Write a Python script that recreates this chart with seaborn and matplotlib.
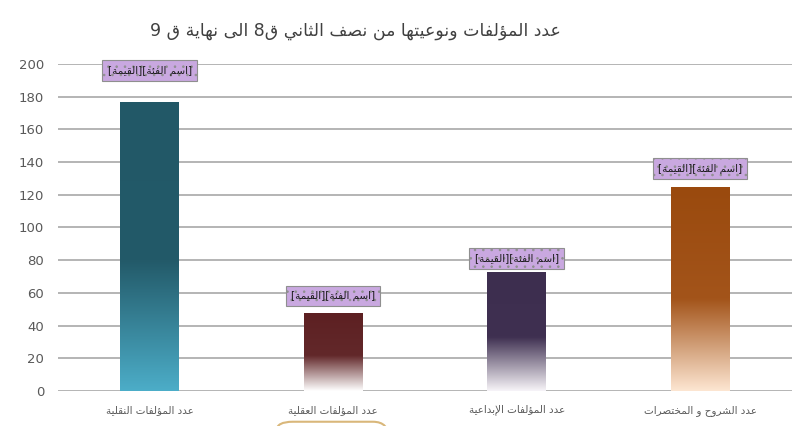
import matplotlib
matplotlib.use("Agg")
import matplotlib.pyplot as plt
import seaborn as sns
import numpy as np
import pandas as pd
from matplotlib.colors import LinearSegmentedColormap
from matplotlib.patches import FancyBboxPatch

# chart data (logical Arabic order)
title = "عدد المؤلفات ونوعيتها من نصف الثاني ق8 الى نهاية ق 9"
categories = ["عدد المؤلفات النقلية", "عدد المؤلفات العقلية",
              "عدد المؤلفات الإبداعية", "عدد الشروح و المختصرات"]
values = [177, 48, 73, 125]
label_name = "اسم الفئة"
label_value = "القيمة"
yticks = [0, 20, 40, 60, 80, 100, 120, 140, 160, 180, 200]

# where the data-label boxes sit (first one is pushed to the top of the plot)
label_y = [196, 58, 81, 136]

# top, middle, bottom of each bar gradient
gradients = [
    ["#225867", "#235a69", "#4cadc8"],
    ["#5d2022", "#62282a", "#ffffff"],
    ["#3d2e4f", "#3f3051", "#f7f4f8"],
    ["#9a4a0e", "#a3541a", "#fde6d2"],
]

# minimal Arabic shaping (matplotlib has no text shaping)
FOUR = {0x0626: 0xFE89, 0x0628: 0xFE8F, 0x062A: 0xFE95, 0x062B: 0xFE99, 0x062C: 0xFE9D,
        0x062D: 0xFEA1, 0x062E: 0xFEA5, 0x0633: 0xFEB1, 0x0634: 0xFEB5, 0x0635: 0xFEB9,
        0x0636: 0xFEBD, 0x0637: 0xFEC1, 0x0638: 0xFEC5, 0x0639: 0xFEC9, 0x063A: 0xFECD,
        0x0641: 0xFED1, 0x0642: 0xFED5, 0x0643: 0xFED9, 0x0644: 0xFEDD, 0x0645: 0xFEE1,
        0x0646: 0xFEE5, 0x0647: 0xFEE9, 0x064A: 0xFEF1}
TWO = {0x0622: 0xFE81, 0x0623: 0xFE83, 0x0624: 0xFE85, 0x0625: 0xFE87, 0x0627: 0xFE8D,
       0x0629: 0xFE93, 0x062F: 0xFEA9, 0x0630: 0xFEAB, 0x0631: 0xFEAD, 0x0632: 0xFEAF,
       0x0648: 0xFEED, 0x0649: 0xFEEF}
LAMALEF = {0x0622: 0xFEF5, 0x0623: 0xFEF7, 0x0625: 0xFEF9, 0x0627: 0xFEFB}


def shape(text):
    toks = []
    i = 0
    while i < len(text):
        c = ord(text[i])
        if c == 0x0644 and i + 1 < len(text) and ord(text[i + 1]) in LAMALEF:
            toks.append(("LA", LAMALEF[ord(text[i + 1])]))
            i += 2
        else:
            toks.append(("C", c))
            i += 1

    def dual(t):
        return t[0] == "C" and t[1] in FOUR

    def arabic(t):
        return t[0] == "LA" or t[1] in FOUR or t[1] in TWO

    out = []
    for k, t in enumerate(toks):
        prev = k > 0 and dual(toks[k - 1])
        nxt = dual(t) and k + 1 < len(toks) and arabic(toks[k + 1])
        if t[0] == "LA":
            out.append(chr(t[1] + (1 if prev else 0)))
        elif t[1] in FOUR:
            off = 3 if (prev and nxt) else 1 if prev else 2 if nxt else 0
            out.append(chr(FOUR[t[1]] + off))
        elif t[1] in TWO:
            out.append(chr(TWO[t[1]] + (1 if prev else 0)))
        else:
            out.append(chr(t[1]))
    return "".join(out)[::-1]


sns.set_style("white")
plt.rcParams["font.family"] = ["DejaVu Sans"]
plt.rcParams["hatch.linewidth"] = 0.6

df = pd.DataFrame({"cat": [shape(c) for c in categories], "val": values})

fig = plt.figure(figsize=(8.02, 4.26), dpi=100)
fig.patch.set_facecolor("white")
ax = fig.add_axes([0.0723, 0.0822, 0.915, 0.7676])
ax.set_facecolor("none")

sns.barplot(data=df, x="cat", y="val", ax=ax, width=0.32, color="#888888",
            saturation=1, zorder=3)

ax.set_yticks(yticks)
ax.yaxis.grid(True, color="#a8a8a8", linewidth=1.2, zorder=0)
ax.set_axisbelow(True)
for s in ax.spines.values():
    s.set_visible(False)
ax.tick_params(axis="y", labelsize=9.5, labelcolor="#595959", length=0, pad=10)
ax.tick_params(axis="x", labelsize=7.5, labelcolor="#595959", length=0, pad=10)
ax.set_xlabel("")
ax.set_ylabel("")

# vertical gradients clipped to each bar
for patch, cols in zip(ax.patches, gradients):
    x0, y0 = patch.get_x(), patch.get_y()
    w, h = patch.get_width(), patch.get_height()
    cmap = LinearSegmentedColormap.from_list("g", [(0, cols[0]), (0.55, cols[1]), (1, cols[2])])
    grad = np.linspace(0, 1, 256).reshape(-1, 1)
    im = ax.imshow(grad, cmap=cmap, aspect="auto", extent=[x0, x0 + w, y0, y0 + h],
                   origin="upper", zorder=3)
    im.set_clip_path(patch)
    patch.set_facecolor("none")
    patch.set_edgecolor("none")
ax.set_xlim(-0.5, 3.5)
ax.set_ylim(0, 200)

label_text = "[" + shape(label_value) + "][" + shape(label_name) + "]"
for i, ly in enumerate(label_y):
    ax.text(i, ly, label_text, ha="center", va="center",
            fontsize=7.5, color="#1a1a1a", zorder=5,
            bbox=dict(boxstyle="square,pad=0.5", facecolor="#c9a8e0",
                      edgecolor="#8f8f8f", linewidth=0.8, hatch=".."))

fig.text(0.443, 0.928, shape(title), ha="center", va="center",
         fontsize=12.5, color="#404040")

# decorative frame piece seen at the bottom of the source
fig.add_artist(FancyBboxPatch((0.345, -0.05), 0.14, 0.06, boxstyle="round,pad=0,rounding_size=0.02",
                              transform=fig.transFigure, facecolor="none",
                              edgecolor="#d9b77a", linewidth=1.5))

fig.savefig("out.png", dpi=100)
